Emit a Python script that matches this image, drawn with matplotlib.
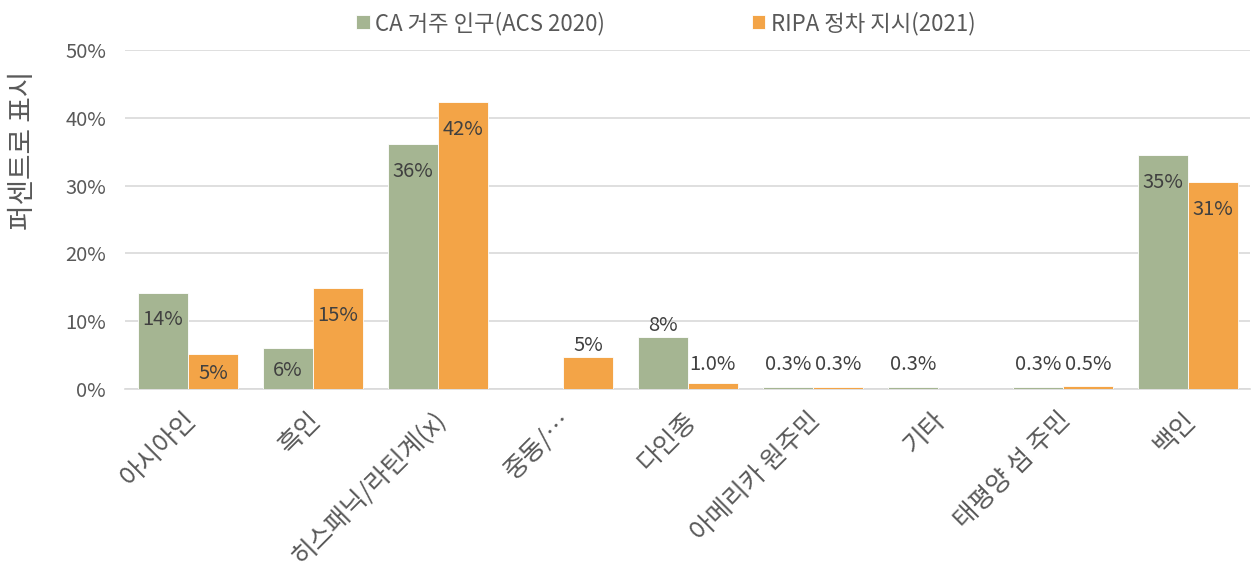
import matplotlib
matplotlib.use("Agg")
import matplotlib.pyplot as plt
import matplotlib.transforms as mtransforms
import numpy as np
from matplotlib.ticker import FuncFormatter

plt.rcParams['font.family'] = ['Noto Sans CJK KR', 'DejaVu Sans']

categories = ['아시아인', '흑인', '히스패닉/라틴계(x)', '중동/…', '다인종',
              '아메리카 원주민', '기타', '태평양 섬 주민', '백인']
ca_pop = [14.2, 6.0, 36.1, np.nan, 7.7, 0.3, 0.3, 0.3, 34.5]
ripa_stops = [5.2, 14.9, 42.3, 4.7, 0.9, 0.3, np.nan, 0.5, 30.5]
ca_labels = ['14%', '6%', '36%', '', '8%', '0.3%', '0.3%', '0.3%', '35%']
ripa_labels = ['5%', '15%', '42%', '5%', '1.0%', '0.3%', '', '0.5%', '31%']
series_names = ['CA 거주 인구(ACS 2020)', 'RIPA 정차 지시(2021)']

green = '#A5B592'
orange = '#F3A447'
text_c = '#595959'
lab_c = '#404040'
grid_c = '#D9D9D9'
fs = 14.5

fig = plt.figure(figsize=(12.54, 5.67), dpi=100)
ax = fig.add_axes([0.1, 0.314, 0.897, 0.598])

x = np.arange(len(categories))
w = 0.4
b1 = ax.bar(x - w / 2, ca_pop, w, color=green, edgecolor='white', linewidth=0.6,
            label=series_names[0], zorder=3)
b2 = ax.bar(x + w / 2, ripa_stops, w, color=orange, edgecolor='white', linewidth=0.6,
            label=series_names[1], zorder=3)


def label_series(xs, vals, labels, inside_small):
    for i, (xi, v, lab) in enumerate(zip(xs, vals, labels)):
        if not lab or np.isnan(v):
            continue
        if v > 10 or i in inside_small:
            # inside end
            y = max(v - 4.0, v / 2 - 0.3)
            ax.text(xi, y, lab, ha='center', va='center', fontsize=fs, color=lab_c, zorder=4)
        elif v > 4:
            ax.text(xi, v + 0.1, lab, ha='center', va='bottom', fontsize=fs, color=lab_c, zorder=4)
        else:
            ax.text(xi, max(v + 0.4, 2.0), lab, ha='center', va='bottom', fontsize=fs,
                    color=lab_c, zorder=4)


label_series(x - w / 2, ca_pop, ca_labels, inside_small={1})
label_series(x + w / 2, ripa_stops, ripa_labels, inside_small={0})

ax.set_ylim(0, 50)
ax.set_xlim(-0.5, len(categories) - 0.5)
ax.set_yticks(np.arange(0, 51, 10))
ax.yaxis.set_major_formatter(FuncFormatter(lambda v, p: f'{v:.0f}%'))
ax.grid(axis='y', color=grid_c, linewidth=1.2, zorder=0)
for s in ['top', 'right', 'left']:
    ax.spines[s].set_visible(False)
ax.spines['bottom'].set_color(grid_c)
ax.spines['bottom'].set_linewidth(1.2)
ax.tick_params(axis='both', length=0, colors=text_c, labelsize=fs)
ax.tick_params(axis='y', pad=14)

ax.set_xticks(x)
ax.set_xticklabels(categories, rotation=45, ha='right', rotation_mode='anchor', fontsize=18.5)
ax.tick_params(axis='x', pad=13)
shift = mtransforms.ScaledTranslation(-5 / 100, 0, fig.dpi_scale_trans)
for t in ax.get_xticklabels():
    t.set_transform(t.get_transform() + shift)

ax.set_ylabel('퍼센트로 표시', fontsize=20, color=text_c)
ax.yaxis.set_label_coords(-0.078, 0.705)

fig.legend(handles=[b1, b2], labels=series_names, loc='upper center',
           bbox_to_anchor=(0.531, 1.015), ncol=2, frameon=False, fontsize=16,
           labelcolor=text_c, handlelength=0.6, handleheight=0.6, handletextpad=0.25,
           columnspacing=6.6)

fig.savefig('out.png', dpi=100)
